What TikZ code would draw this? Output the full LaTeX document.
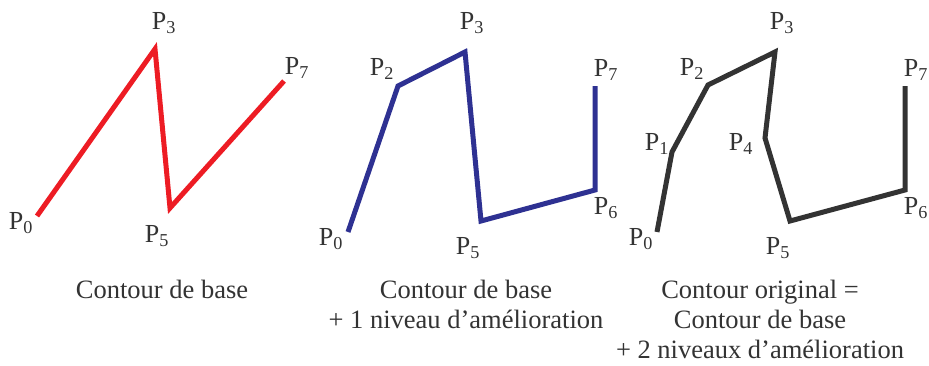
\documentclass[tikz,border=0pt]{standalone}
\usepackage{fontspec}
\setmainfont{Liberation Serif}
\usepackage{tikz}
\definecolor{contred}{HTML}{ED1C24}
\definecolor{contblue}{HTML}{2E3192}
\definecolor{contgray}{HTML}{333333}
\tikzset{
contour/.style={line width=5pt,line join=miter},
ptlabel/.style={inner sep=0pt,text=contgray,font=\fontsize{26}{30}\selectfont},
caption/.style={inner sep=0pt,align=center,text=contgray,font=\fontsize{26.5}{30}\selectfont,anchor=north}
}

\begin{document}
\begin{tikzpicture}[x=1pt,y=-1pt]
\useasboundingbox (0,0) rectangle (929,365);
% contour de base
\coordinate (a0) at (37,216);
\coordinate (a3) at (155,49);
\coordinate (a5) at (170,208);
\coordinate (a7) at (284,81);
\draw[contour,contred] (a0)--(a3)--(a5)--(a7);
\node[ptlabel] (la0) at (21,223) {P\textsubscript{0}};
\node[ptlabel] (la3) at (164,23) {P\textsubscript{3}};
\node[ptlabel] (la5) at (157,236) {P\textsubscript{5}};
\node[ptlabel] (la7) at (297,68) {P\textsubscript{7}};
\node[caption] (capa) at (162,280) {Contour de base};

% + 1 niveau
\coordinate (b0) at (348,232);
\coordinate (b2) at (398,86);
\coordinate (b3) at (465,52);
\coordinate (b5) at (481,221);
\coordinate (b6) at (595,190);
\coordinate (b7) at (595,86);
\draw[contour,contblue] (b0)--(b2)--(b3)--(b5)--(b6)--(b7);
\node[ptlabel] (lb0) at (331,239) {P\textsubscript{0}};
\node[ptlabel] (lb2) at (382,69) {P\textsubscript{2}};
\node[ptlabel] (lb3) at (472,23) {P\textsubscript{3}};
\node[ptlabel] (lb5) at (468,248) {P\textsubscript{5}};
\node[ptlabel] (lb6) at (606,208) {P\textsubscript{6}};
\node[ptlabel] (lb7) at (606,70) {P\textsubscript{7}};
\node[caption] (capb) at (466,280) {Contour de base\\+ 1 niveau d'amélioration};

% + 2 niveaux = original
\coordinate (c0) at (657,232);
\coordinate (c1) at (672,152);
\coordinate (c2) at (708,85);
\coordinate (c3) at (775,52);
\coordinate (c4) at (765,138);
\coordinate (c5) at (790,221);
\coordinate (c6) at (905,190);
\coordinate (c7) at (905,86);
\draw[contour,contgray] (c0)--(c1)--(c2)--(c3)--(c4)--(c5)--(c6)--(c7);
\node[ptlabel] (lc0) at (641,239) {P\textsubscript{0}};
\node[ptlabel] (lc1) at (657,144) {P\textsubscript{1}};
\node[ptlabel] (lc2) at (692,69) {P\textsubscript{2}};
\node[ptlabel] (lc3) at (782,23) {P\textsubscript{3}};
\node[ptlabel] (lc4) at (741,144) {P\textsubscript{4}};
\node[ptlabel] (lc5) at (778,248) {P\textsubscript{5}};
\node[ptlabel] (lc6) at (916,208) {P\textsubscript{6}};
\node[ptlabel] (lc7) at (916,70) {P\textsubscript{7}};
\node[caption] (capc) at (760,280) {Contour original =\\Contour de base\\+ 2 niveaux d'amélioration};
\end{tikzpicture}
\end{document}
